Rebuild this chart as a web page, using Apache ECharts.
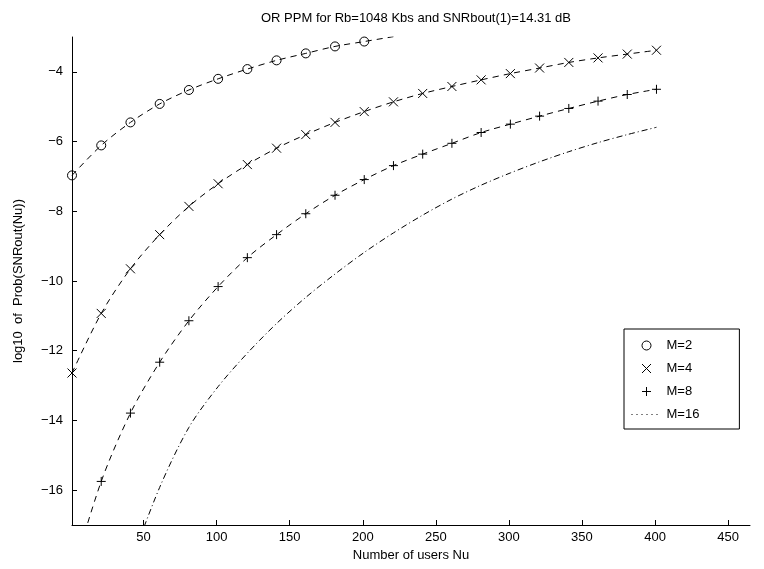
<!DOCTYPE html>
<html>
<head>
<meta charset="utf-8">
<script src="https://cdn.jsdelivr.net/npm/echarts@6/dist/echarts.min.js"></script>
<style>
  html, body { margin: 0; padding: 0; background: #fff; }
  #chart { width: 764px; height: 569px; }
</style>
</head>
<body>
<div id="chart"></div>
<script>
// Number of users at which each curve was sampled
const users = [1, 21, 41, 61, 81, 101, 121, 141, 161, 181, 201, 221, 241, 261, 281, 301, 321, 341, 361, 381, 401];

// log10 of outage probability, one array per PPM order
const logProbM2 = [-6.97, -6.11, -5.45, -4.92, -4.52, -4.20, -3.92, -3.67, -3.47, -3.27, -3.13, -2.99];
const logProbM4 = [-12.64, -10.93, -9.65, -8.67, -7.86, -7.21, -6.66, -6.19, -5.80, -5.45, -5.14, -4.86, -4.62, -4.42, -4.23, -4.05, -3.89, -3.73, -3.60, -3.49, -3.38];
const logProbM8 = [-18.45, -15.75, -13.79, -12.33, -11.14, -10.16, -9.33, -8.67, -8.07, -7.54, -7.09, -6.69, -6.36, -6.05, -5.74, -5.50, -5.27, -5.05, -4.84, -4.65, -4.50];
// M=16 starts at Nu=41
const logProbM16 = [-18.10, -15.92, -14.20, -13.03, -12.07, -11.22, -10.47, -9.80, -9.18, -8.62, -8.11, -7.65, -7.25, -6.90, -6.58, -6.29, -6.03, -5.80, -5.59];

const xTicks = [50, 100, 150, 200, 250, 300, 350, 400, 450];
const yTicks = [-16, -14, -12, -10, -8, -6, -4];

const pairs = (xs, ys) => ys.map((v, i) => [xs[i], v]);

const FONT = 'Liberation Sans, Arial, Helvetica, sans-serif';
const CROSS = 'path://M0,0L10,10M10,0L0,10';
const PLUS = 'path://M5,0L5,10M0,5L10,5';
const hollow = { color: 'transparent', borderColor: '#000', borderWidth: 1 };
const dashed = { color: '#000', width: 1, type: [6, 5] };

const chart = echarts.init(document.getElementById('chart'), null, { renderer: 'canvas' });

chart.setOption({
  backgroundColor: '#fff',
  animation: false,
  title: {
    text: 'OR PPM for Rb=1048 Kbs and SNRbout(1)=14.31 dB',
    left: 411,
    top: 7,
    textAlign: 'center',
    textStyle: { fontFamily: FONT, fontSize: 13, fontWeight: 'normal', color: '#000' }
  },
  grid: { left: 72, right: 14, top: 37, bottom: 44, containLabel: false },
  xAxis: {
    type: 'value',
    min: 1,
    max: 465,
    name: 'Number of users Nu',
    nameLocation: 'middle',
    nameGap: 21,
    nameTextStyle: { fontFamily: FONT, fontSize: 13, color: '#000' },
    axisLine: { lineStyle: { color: '#000', width: 1 } },
    axisTick: { inside: true, length: 5, customValues: xTicks, lineStyle: { color: '#000' } },
    axisLabel: { customValues: xTicks, margin: 6, fontFamily: FONT, fontSize: 13, color: '#000' },
    splitLine: { show: false }
  },
  yAxis: {
    type: 'value',
    min: -17,
    max: -3,
    name: 'log10  of  Prob(SNRout(Nu))',
    nameLocation: 'middle',
    nameGap: 47,
    nameTextStyle: { fontFamily: FONT, fontSize: 13, color: '#000' },
    axisLine: { lineStyle: { color: '#000', width: 1 } },
    axisTick: { inside: true, length: 5, customValues: yTicks, lineStyle: { color: '#000' } },
    axisLabel: {
      customValues: yTicks,
      margin: 9,
      fontFamily: FONT,
      fontSize: 13,
      color: '#000',
      formatter: v => String(v).replace('-', '\u2212')
    },
    splitLine: { show: false }
  },
  legend: {
    orient: 'vertical',
    left: 624,
    top: 329,
    padding: [10, 40, 8, 7],
    itemGap: 10,
    itemWidth: 30,
    itemHeight: 9,
    backgroundColor: '#fff',
    borderColor: '#000',
    borderWidth: 1,
    borderRadius: 0,
    textStyle: { fontFamily: FONT, fontSize: 13, color: '#000' },
    data: [
      { name: 'M=2', icon: 'circle', itemStyle: hollow },
      { name: 'M=4', icon: CROSS, itemStyle: hollow },
      { name: 'M=8', icon: PLUS, itemStyle: hollow },
      {
        name: 'M=16',
        itemStyle: { color: 'transparent', borderColor: 'transparent', borderWidth: 0, opacity: 0 },
        lineStyle: { color: '#000', width: 1, type: [1, 4] }
      }
    ]
  },
  series: [
    {
      name: 'M=2', type: 'line', data: pairs(users, logProbM2),
      smooth: 0.3,
      symbol: 'circle', symbolSize: 9, itemStyle: hollow, lineStyle: dashed
    },
    {
      name: 'M=4', type: 'line', data: pairs(users, logProbM4),
      smooth: 0.3,
      symbol: CROSS, symbolSize: 9, itemStyle: hollow, lineStyle: dashed
    },
    {
      name: 'M=8', type: 'line', data: pairs(users, logProbM8),
      smooth: 0.3,
      symbol: PLUS, symbolSize: 9, itemStyle: hollow, lineStyle: dashed
    },
    {
      name: 'M=16', type: 'line', data: pairs(users.slice(2), logProbM16),
      smooth: 0.3,
      symbol: 'none', lineStyle: { color: '#000', width: 1, type: [6, 3, 1, 3] }
    }
  ]
});
</script>
</body>
</html>
